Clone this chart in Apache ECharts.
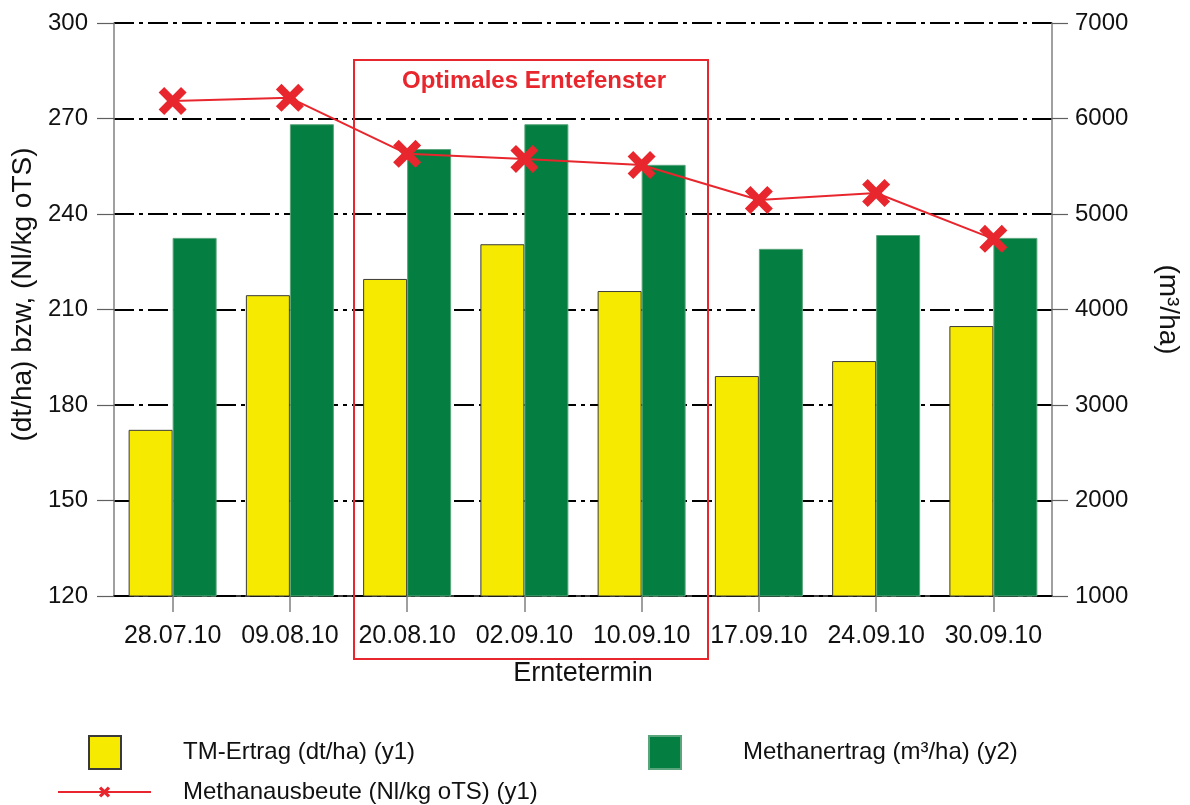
<!DOCTYPE html>
<html>
<head>
<meta charset="utf-8">
<script src="https://cdn.jsdelivr.net/npm/echarts@6/dist/echarts.min.js"></script>
<style>
html,body{margin:0;padding:0;background:#fff;}
#chart{width:1190px;height:805px;}
</style>
</head>
<body>
<div id="chart"></div>
<script>
// ---- data ----
const categories = ['28.07.10','09.08.10','20.08.10','02.09.10','10.09.10','17.09.10','24.09.10','30.09.10'];
const tmErtrag = [172.2, 214.5, 219.6, 230.5, 215.8, 189.1, 193.8, 204.8];          // dt/ha (y1)
const methanErtrag = [4750, 5940, 5680, 5940, 5515, 4635, 4780, 4750];              // m³/ha (y2)
const methanAusbeute = [275.5, 276.5, 258.9, 257.3, 255.4, 244.4, 246.6, 232.2];    // Nl/kg oTS (y1)
const leftTicks = {min: 120, max: 300, interval: 30};
const rightTicks = {min: 1000, max: 7000, interval: 1000};
const seriesNames = ['TM-Ertrag (dt/ha) (y1)', 'Methanertrag (m³/ha) (y2)', 'Methanausbeute (Nl/kg oTS) (y1)'];
const windowLabel = 'Optimales Erntefenster';

const FONT = "'Liberation Sans', Arial, sans-serif";
const RED = '#e8262d';
const YELLOW = '#f5ea00';
const GREEN = '#047f41';
const crossPath = 'path://M0,4 L4,0 L10,6 L16,0 L20,4 L14,10 L20,16 L16,20 L10,14 L4,20 L0,16 L6,10 Z';

const chart = echarts.init(document.getElementById('chart'), null, {renderer: 'canvas'});
const gridDash = {color: '#000', width: 2, type: [20, 5, 4, 5]};

chart.setOption({
  backgroundColor: '#fff',
  animation: false,
  textStyle: {fontFamily: FONT},
  grid: {left: 114, right: 135, top: 23, bottom: 209, containLabel: false},
  xAxis: {
    type: 'category',
    data: categories,
    boundaryGap: true,
    name: 'Erntetermin',
    nameLocation: 'middle',
    nameGap: 64,
    nameTextStyle: {fontSize: 27, color: '#111', fontFamily: FONT},
    axisLine: {show: true, lineStyle: {color: '#000', width: 1.5}},
    axisTick: {show: true, interval: 0, alignWithLabel: true, length: 16, lineStyle: {color: '#808080', width: 1.5}},
    axisLabel: {interval: 0, fontSize: 25, color: '#111', margin: 28, fontFamily: FONT},
    splitLine: {show: false}
  },
  yAxis: [
    {
      type: 'value',
      position: 'left',
      min: leftTicks.min, max: leftTicks.max, interval: leftTicks.interval,
      name: '(dt/ha) bzw, (Nl/kg oTS)',
      nameLocation: 'middle',
      nameRotate: 90,
      nameGap: 67,
      nameTextStyle: {fontSize: 28, color: '#111', fontFamily: FONT, padding: [0, 0, 0, 30]},
      axisLine: {show: true, lineStyle: {color: '#808080', width: 1.5}},
      axisTick: {show: true, length: 17, lineStyle: {color: '#606060', width: 1.2}},
      axisLabel: {fontSize: 24, color: '#111', margin: 26, fontFamily: FONT},
      splitLine: {show: true, lineStyle: gridDash}
    },
    {
      type: 'value',
      position: 'right',
      min: rightTicks.min, max: rightTicks.max, interval: rightTicks.interval,
      name: '(m³/ha)',
      nameLocation: 'middle',
      nameRotate: -90,
      nameGap: 102,
      nameTextStyle: {fontSize: 28, color: '#111', fontFamily: FONT},
      axisLine: {show: true, lineStyle: {color: '#808080', width: 1.5}},
      axisTick: {show: true, length: 16, lineStyle: {color: '#606060', width: 1.2}},
      axisLabel: {fontSize: 24, color: '#111', margin: 23, fontFamily: FONT, formatter: v => String(v)},
      splitLine: {show: false}
    }
  ],
  legend: [
    {
      data: [{name: seriesNames[0], icon: 'rect'}], left: 88, top: 735, padding: 0,
      itemWidth: 32, itemHeight: 33,
      textStyle: {fontSize: 24, color: '#111', fontFamily: FONT, padding: [0, 0, 0, 57]},
      selectedMode: false
    },
    {
      data: [{name: seriesNames[1], icon: 'rect'}], left: 648, top: 735, padding: 0,
      itemWidth: 32, itemHeight: 33,
      textStyle: {fontSize: 24, color: '#111', fontFamily: FONT, padding: [0, 0, 0, 57]},
      selectedMode: false
    },
    {
      data: [seriesNames[2]], left: 57, top: 780, padding: 0,
      itemWidth: 93, itemHeight: 14,
      textStyle: {fontSize: 24, color: '#111', fontFamily: FONT, padding: [0, 0, 0, 27]},
      selectedMode: false
    }
  ],
  series: [
    {
      name: seriesNames[0],
      type: 'bar',
      yAxisIndex: 0,
      data: tmErtrag,
      barWidth: 44,
      barGap: '0%',
      itemStyle: {color: YELLOW, borderColor: '#3a3a3a', borderWidth: 1},
      z: 2
    },
    {
      name: seriesNames[1],
      type: 'bar',
      yAxisIndex: 1,
      data: methanErtrag,
      barWidth: 44,
      barGap: '0%',
      itemStyle: {color: GREEN, borderColor: '#5aa57c', borderWidth: 1},
      z: 2
    },
    {
      name: seriesNames[2],
      type: 'line',
      yAxisIndex: 0,
      data: methanAusbeute,
      symbol: crossPath,
      symbolSize: 28,
      showAllSymbol: true,
      lineStyle: {color: RED, width: 2},
      itemStyle: {color: RED},
      z: 5
    }
  ],
  graphic: [
    {
      type: 'rect',
      shape: {x: 354, y: 60, width: 354, height: 599},
      style: {fill: 'none', stroke: RED, lineWidth: 2},
      z: 10
    },
    {
      type: 'text',
      x: 534, y: 81,
      style: {text: windowLabel, fill: RED, font: "bold 24px 'Liberation Sans', Arial, sans-serif", align: 'center', verticalAlign: 'middle'},
      z: 10
    }
  ]
});
</script>
</body>
</html>
